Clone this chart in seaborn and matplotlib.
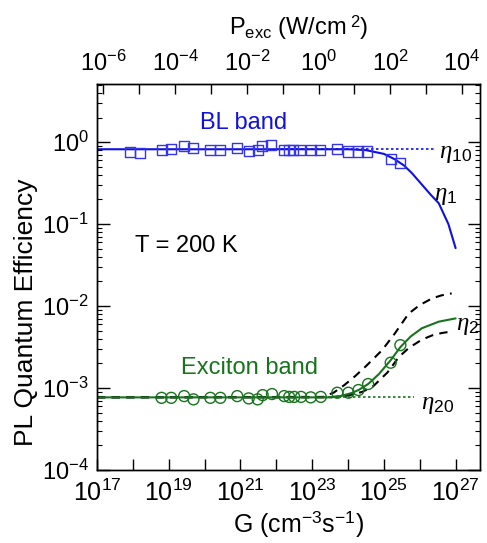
import numpy as np
import pandas as pd
import matplotlib
matplotlib.use('Agg')
import matplotlib.pyplot as plt
import matplotlib.ticker as mt
import seaborn as sns

# BL band, measured points (log10 G, efficiency)
bl_logG = [17.92, 18.19, 18.80, 19.07, 19.42, 19.68, 20.16, 20.44, 20.90, 21.23, 21.48, 21.60, 21.85,
           22.22, 22.36, 22.47, 22.66, 22.96, 23.21, 23.70, 24.01, 24.29, 24.54, 25.19, 25.46]
bl_eta = [0.76, 0.74, 0.81, 0.83, 0.89, 0.85, 0.81, 0.81, 0.85, 0.78, 0.80, 0.89, 0.93,
          0.81, 0.80, 0.80, 0.80, 0.80, 0.80, 0.83, 0.77, 0.77, 0.77, 0.63, 0.55]

# exciton band, measured points
ex_logG = [18.80, 19.07, 19.43, 19.69, 20.16, 20.44, 20.91, 21.23, 21.48, 21.62, 21.88, 22.22,
           22.36, 22.50, 22.69, 22.96, 23.24, 23.70, 24.01, 24.29, 24.56, 25.19, 25.46]
ex_eta = [7.6e-4, 7.6e-4, 7.98e-4, 7.28e-4, 7.6e-4, 7.6e-4, 7.98e-4, 7.48e-4, 7.28e-4, 8.2e-4, 8.45e-4, 7.98e-4,
          7.8e-4, 7.8e-4, 7.8e-4, 7.7e-4, 7.8e-4, 8.77e-4, 8.77e-4, 9.46e-4, 1.12e-3, 2.04e-3, 3.34e-3]

# model curves
eta1_logG = [17.0, 24.0, 24.5, 25.0, 25.3, 25.56, 25.78, 26.1, 26.3, 26.53, 26.8, 27.0]
eta1 = [0.82, 0.82, 0.80, 0.72, 0.62, 0.52, 0.42, 0.29, 0.23, 0.18, 0.10, 0.051]
eta10_logG = [22.0, 26.45]
eta10 = [0.82, 0.82]

eta2_logG = [17.0, 23.5, 23.8, 24.1, 24.3, 24.56, 24.86, 25.19, 25.46, 25.75, 26.06, 26.53, 27.0]
eta2 = [7.7e-4, 7.7e-4, 8.0e-4, 8.7e-4, 9.5e-4, 1.12e-3, 1.48e-3, 2.19e-3, 3.16e-3, 4.27e-3, 5.37e-3, 6.46e-3, 7.08e-3]
eta20_logG = [23.3, 25.83]
eta20 = [7.7e-4, 7.7e-4]

up_logG = [17.0, 23.3, 23.6, 23.9, 24.2, 24.5, 24.95, 25.3, 25.69, 26.0, 26.34, 26.6, 26.89]
up_eta = [7.7e-4, 7.8e-4, 8.8e-4, 1.09e-3, 1.4e-3, 1.85e-3, 2.9e-3, 4.6e-3, 8.1e-3, 1.03e-2, 1.24e-2, 1.35e-2, 1.43e-2]
lo_logG = [17.0, 23.5, 24.0, 24.4, 24.7, 25.1, 25.42, 25.7, 26.06, 26.35, 26.62, 26.89]
lo_eta = [7.7e-4, 7.7e-4, 8.1e-4, 9.0e-4, 1.05e-3, 1.55e-3, 2.4e-3, 3.1e-3, 3.9e-3, 4.4e-3, 4.7e-3, 4.9e-3]

g_ticks = list(range(17, 28))
p_ticks = list(range(-6, 5))
P_PER_G = 10 ** -23.18   # top axis: P_exc = G * P_PER_G

blue = '#1010e0'
green = '#17731c'

sns.set_style('ticks', {'axes.edgecolor': 'black', 'text.color': 'black', 'axes.labelcolor': 'black',
                        'xtick.color': 'black', 'ytick.color': 'black'})
plt.rcParams['font.family'] = ['Liberation Sans', 'DejaVu Sans']
plt.rcParams['mathtext.fontset'] = 'custom'
plt.rcParams['mathtext.rm'] = 'Liberation Sans'
plt.rcParams['mathtext.it'] = 'Liberation Serif:italic'
plt.rcParams['axes.linewidth'] = 1.0

fig = plt.figure(figsize=(4.87, 5.43), dpi=100)
ax = fig.add_axes([0.1992, 0.1344, 0.7864, 0.7109])


def G(v):
    return 10 ** np.asarray(v, dtype=float)


def line(xs, ys, **kw):
    sns.lineplot(x=G(xs), y=ys, ax=ax, estimator=None, sort=False, **kw)


# black dashed bounds, then green and blue curves
line(up_logG, up_eta, color='black', lw=1.5, linestyle=(0, (4, 3)))
line(lo_logG, lo_eta, color='black', lw=1.5, linestyle=(0, (4, 3)))
line(eta2_logG, eta2, color=green, lw=1.5)
line(eta20_logG, eta20, color=green, lw=1.2, linestyle=(0, (1.5, 1.5)))
line(eta1_logG, eta1, color=blue, lw=1.5)
line(eta10_logG, eta10, color=blue, lw=1.2, linestyle=(0, (1.5, 1.5)))

sns.scatterplot(x=G(bl_logG), y=bl_eta, ax=ax, marker='s', s=52, facecolors='none',
                edgecolor='#3535f0', linewidth=1.0, zorder=4)
sns.scatterplot(x=G(ex_logG), y=ex_eta, ax=ax, marker='o', s=62, facecolors='none',
                edgecolor=green, linewidth=1.0, zorder=4)

ax.set_xscale('log')
ax.set_yscale('log')
ax.set_xlim(1e17, 10 ** 27.68)
ax.set_ylim(1e-4, 10 ** 0.71)


def dec_fmt(keep_odd):
    def f(v, _):
        e = int(round(np.log10(v)))
        if (e % 2 == 1) == keep_odd:
            return r'$\mathdefault{10^{%d}}$' % e
        return ''
    return f


ax.xaxis.set_major_locator(mt.FixedLocator([10.0 ** e for e in g_ticks]))
ax.xaxis.set_major_formatter(mt.FuncFormatter(dec_fmt(True)))
ax.xaxis.set_minor_locator(mt.NullLocator())
ax.yaxis.set_major_locator(mt.LogLocator(base=10, numticks=12))
ax.yaxis.set_minor_locator(mt.LogLocator(base=10, subs=np.arange(2, 10), numticks=12))
ax.yaxis.set_minor_formatter(mt.NullFormatter())

ax.tick_params(axis='x', which='major', direction='in', length=8, width=1, labelsize=18, pad=7, top=False)
ax.tick_params(axis='y', which='major', direction='in', length=9, width=1, labelsize=17, pad=6, right=True)
ax.tick_params(axis='y', which='minor', direction='in', length=3.5, width=0.8, right=True)

top = ax.twiny()
top.set_xscale('log')
top.set_xlim(1e17 * P_PER_G, 10 ** 27.68 * P_PER_G)
top.xaxis.set_major_locator(mt.FixedLocator([10.0 ** e for e in p_ticks]))
top.xaxis.set_major_formatter(mt.FuncFormatter(dec_fmt(False)))
top.xaxis.set_minor_locator(mt.NullLocator())
top.tick_params(axis='x', which='major', direction='in', length=7, width=1, labelsize=17, pad=6)
top.set_xlabel(r'P$_{\mathrm{exc}}$ (W/cm$^{\mathrm{\ 2}}$)', fontsize=17)
top.xaxis.set_label_coords(0.527, 1.128)

ax.set_xlabel(r'G (cm$^{\mathrm{-3}}$s$^{\mathrm{-1}}$)', fontsize=18)
ax.xaxis.set_label_coords(0.527, -0.102)
ax.set_ylabel('PL Quantum Efficiency', fontsize=19)
ax.yaxis.set_label_coords(-0.155, 0.41)

ax.text(0.269, 0.899, 'BL band', color=blue, fontsize=17, transform=ax.transAxes, va='center', ha='left')
ax.text(0.099, 0.580, 'T = 200 K', color='black', fontsize=17, transform=ax.transAxes, va='center', ha='left')
ax.text(0.219, 0.264, 'Exciton band', color=green, fontsize=17, transform=ax.transAxes, va='center', ha='left')

ax.text(0.893, 0.822, r'$\eta_{\mathrm{10}}$', fontsize=18, transform=ax.transAxes, va='center', ha='left')
ax.text(0.880, 0.712, r'$\eta_{\mathrm{1}}$', fontsize=18, transform=ax.transAxes, va='center', ha='left')
ax.text(0.937, 0.376, r'$\eta_{\mathrm{2}}$', fontsize=18, transform=ax.transAxes, va='center', ha='left')
ax.text(0.846, 0.170, r'$\eta_{\mathrm{20}}$', fontsize=18, transform=ax.transAxes, va='center', ha='left')

fig.savefig('out.png', dpi=100)
